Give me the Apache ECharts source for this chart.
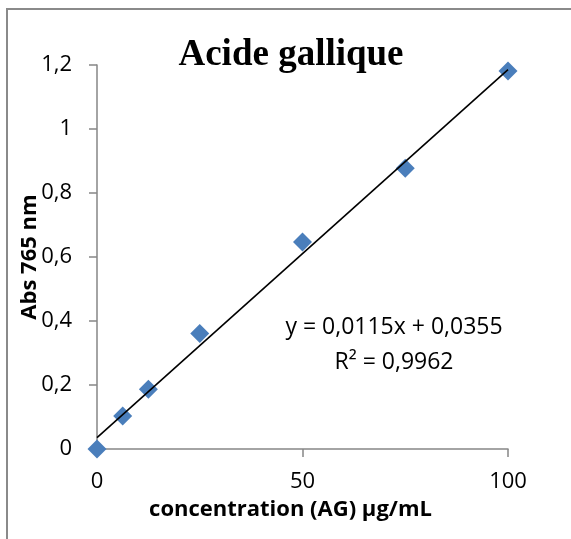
<!DOCTYPE html>
<html>
<head>
<meta charset="utf-8">
<script src="https://cdn.jsdelivr.net/npm/echarts@6/dist/echarts.min.js"></script>
<style>
html,body{margin:0;padding:0;background:#fff;}
#chart{width:571px;height:539px;}
</style>
</head>
<body>
<div id="chart"></div>
<script>
// Data
const concentrations = [0, 6.25, 12.5, 25, 50, 75, 100];
const absorbances = [0, 0.103, 0.187, 0.361, 0.647, 0.877, 1.181];
const trendSlope = 0.0115;
const trendIntercept = 0.0355;
const trendRange = [0, 100];
const equationLines = ['y = 0,0115x + 0,0355', 'R\u00b2 = 0,9962'];
const titleText = 'Acide gallique';
const xAxisName = 'concentration (AG) \u00b5g/mL';
const yAxisName = 'Abs 765 nm';

const pointData = concentrations.map((c, i) => [c, absorbances[i]]);
const trendData = trendRange.map(x => [x, trendSlope * x + trendIntercept]);

const chart = echarts.init(document.getElementById('chart'), null, {renderer: 'canvas'});
const axisGray = '#868686';
const labelFont = '"Open Sans", "Noto Sans", sans-serif';

chart.setOption({
  animation: false,
  backgroundColor: '#ffffff',
  grid: {left: 97, top: 65, right: 63, bottom: 90},
  xAxis: {
    type: 'value', min: 0, max: 100, interval: 50,
    name: xAxisName, nameLocation: 'middle', nameGap: 50, nameMoveOverlap: false,
    nameTextStyle: {fontFamily: labelFont, fontWeight: 'bold', fontSize: 22, color: '#000', padding: [0, 24, 0, 0]},
    axisLine: {show: true, lineStyle: {color: axisGray, width: 1.5}},
    axisTick: {show: true, inside: false, length: 8, lineStyle: {color: axisGray, width: 1.5}},
    axisLabel: {fontFamily: labelFont, fontSize: 22, color: '#000', margin: 22},
    splitLine: {show: false}
  },
  yAxis: {
    type: 'value', min: 0, max: 1.2, interval: 0.2,
    name: yAxisName, nameLocation: 'middle', nameGap: 56, nameRotate: 90, nameMoveOverlap: false,
    nameTextStyle: {fontFamily: labelFont, fontWeight: 'bold', fontSize: 22, color: '#000'},
    axisLine: {show: true, lineStyle: {color: axisGray, width: 1.5}},
    axisTick: {show: true, inside: false, length: 8, lineStyle: {color: axisGray, width: 1.5}},
    axisLabel: {fontFamily: labelFont, fontSize: 22, color: '#000', margin: 25,
      formatter: v => String(Math.round(v * 10) / 10).replace('.', ',')},
    splitLine: {show: false}
  },
  series: [
    {
      type: 'line', data: trendData, showSymbol: false, symbol: 'none',
      lineStyle: {color: '#000', width: 1.6}, z: 3, silent: true
    },
    {
      type: 'scatter', data: pointData, symbol: 'diamond', symbolSize: 19,
      itemStyle: {color: '#4a7ebb', opacity: 1}, z: 2, clip: false
    }
  ],
  graphic: [
    {type: 'rect', shape: {x: 7, y: 9, width: 700, height: 700},
     style: {fill: 'none', stroke: '#8a8a8a', lineWidth: 2}, silent: true, z: -1},
    {type: 'text', x: 291, y: 55,
     style: {text: titleText, font: 'bold 37px "Liberation Serif", "Times New Roman", serif',
             fill: '#000', textAlign: 'center', textVerticalAlign: 'middle'}},
    {type: 'text', x: 394, y: 327,
     style: {text: equationLines[0], font: '23px "Open Sans", "Noto Sans", sans-serif',
             fill: '#000', textAlign: 'center', textVerticalAlign: 'middle'}},
    {type: 'text', x: 394, y: 362,
     style: {text: equationLines[1], font: '23px "Open Sans", "Noto Sans", sans-serif',
             fill: '#000', textAlign: 'center', textVerticalAlign: 'middle'}}
  ]
});
</script>
</body>
</html>
